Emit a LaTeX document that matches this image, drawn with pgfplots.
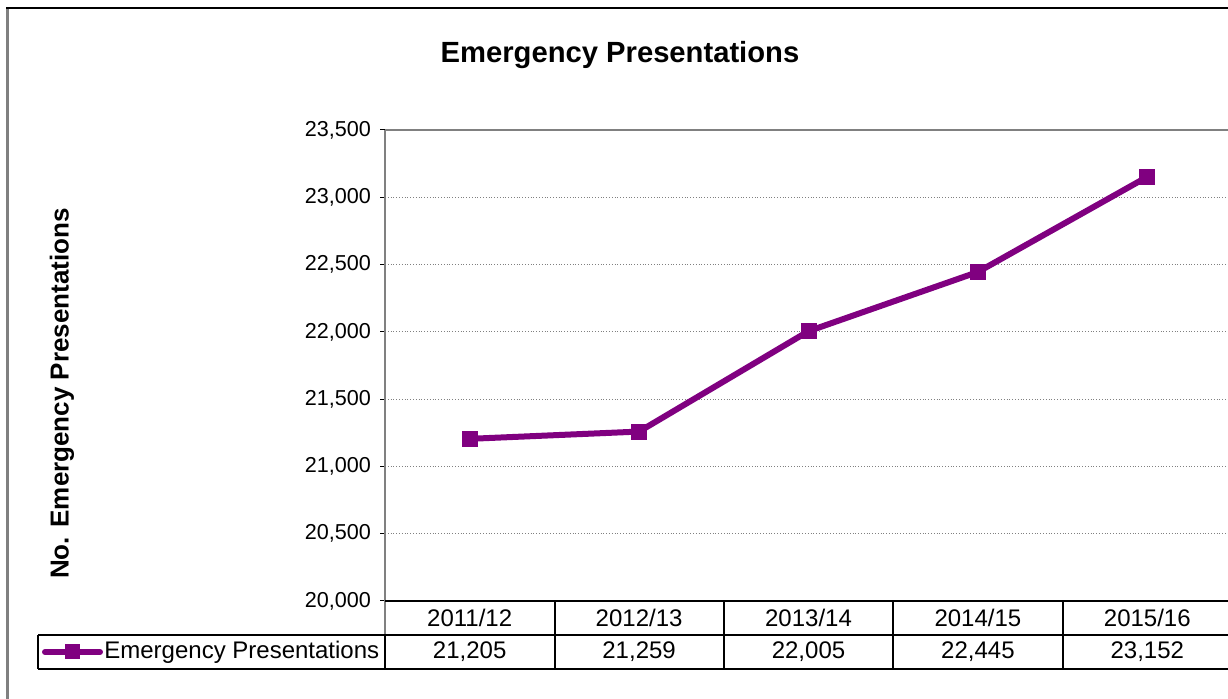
\documentclass[border=0pt]{standalone}
\usepackage{fontspec}
\setmainfont{Liberation Sans}
\usepackage{pgfplots}
\pgfplotsset{compat=1.18}
\definecolor{emerg}{RGB}{128,0,128}
\definecolor{edge}{RGB}{128,128,128}
\begin{document}
\begin{tikzpicture}
% page in pixel units: 1 px = 0.5pt, origin top left
\path[use as bounding box] (0pt,0pt) rectangle (614pt,-349.5pt);
\begin{scope}[x=0.5pt,y=-0.5pt]
  \draw[edge, line width=1.5pt] (7,8) -- (7,699);
  \draw[black, line width=1pt] (6,8) -- (1228,8);
\end{scope}

\begin{axis}[
    at={(192.5pt,-300.5pt)}, anchor=south west,
    scale only axis,
    width=423.5pt, height=235.5pt,
    xmin=-0.5, xmax=4.5,
    ymin=20000, ymax=23500,
    ytick distance=500,
    xtick=\empty,
    ytick pos=left,
    tick align=outside,
    major tick length=2.5pt,
    ytick style={black, line width=0.5pt},
    axis line style={draw=none},
    ymajorgrids,
    grid style={densely dotted, edge, line width=0.6pt},
    scaled y ticks=false,
    yticklabel style={font=\fontsize{10.8}{12}\selectfont, xshift=-1pt},
    /pgf/number format/.cd, 1000 sep={,}, assume math mode=true,
    /pgfplots/.cd,
    clip=false,
]
\addplot[emerg, line width=3pt, mark=square*, mark size=3.75pt,
         mark options={solid, line width=0.4pt}] coordinates {
  (0,21205) (1,21259) (2,22005) (3,22445) (4,23152)
};
\end{axis}

\begin{scope}[x=0.5pt,y=-0.5pt]
  % plot frame
  \draw[edge, line width=1pt] (385,130) -- (1232,130);
  \draw[edge, line width=1pt] (385,130) -- (385,635);
  \draw[black, line width=1pt] (385,635) -- (385,669);
  % data table
  \draw[black, line width=1pt] (385,601) -- (1232,601);
  \draw[black, line width=1pt] (38,635) -- (1232,635);
  \draw[black, line width=1pt] (38,669) -- (1232,669);
  \draw[black, line width=1pt] (38,635) -- (38,669);
  \foreach \xx in {555,724,893,1063} \draw[black, line width=0.8pt] (\xx,601) -- (\xx,669);
  \foreach \xx/\cat/\val in {469.7/2011\slash 12/{21,205},639.1/2012\slash 13/{21,259},808.5/2013\slash 14/{22,005},977.9/2014\slash 15/{22,445},1147.3/2015\slash 16/{23,152}} {
    \node[font=\fontsize{12}{14}\selectfont, inner sep=0pt] at (\xx,618) {\cat};
    \node[font=\fontsize{12}{14}\selectfont, inner sep=0pt] at (\xx,652) {\val};
  }
  % legend key
  \draw[emerg, line width=3pt, line cap=round] (45,652) -- (100,652);
  \fill[emerg] (65,644.5) rectangle (80,659.5);
  \node[font=\fontsize{12}{14}\selectfont, anchor=west, inner sep=0pt] at (104,652) {Emergency Presentations};
  % titles
  \node[font=\bfseries\fontsize{14.6}{17}\selectfont, inner sep=0pt] at (620,55) {Emergency Presentations};
  \node[font=\bfseries\fontsize{13}{15}\selectfont, rotate=90, inner sep=0pt] at (62,393.5) {No. Emergency Presentations};
\end{scope}
\end{tikzpicture}
\end{document}
